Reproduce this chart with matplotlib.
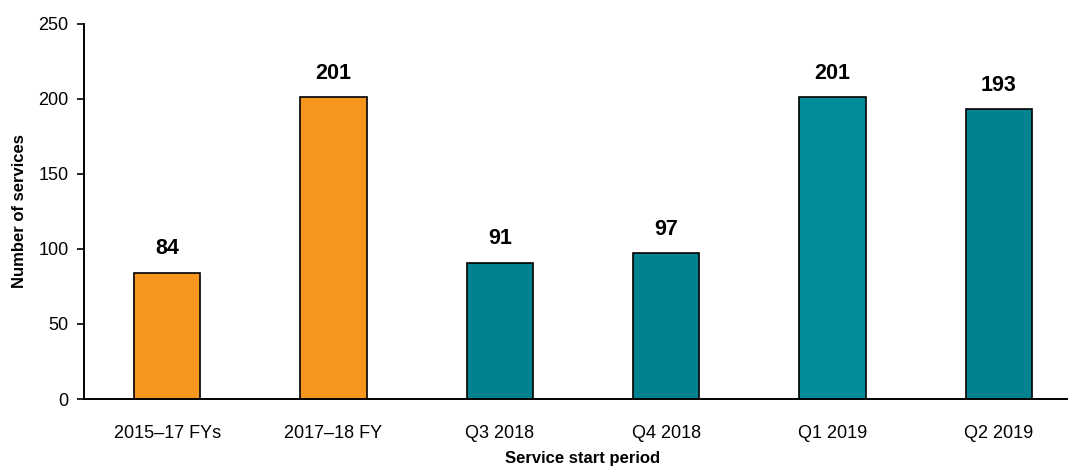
import matplotlib.pyplot as plt

plt.rcParams['font.family'] = ['Liberation Sans', 'DejaVu Sans']

periods = ["2015–17 FYs", "2017–18 FY", "Q3 2018", "Q4 2018", "Q1 2019", "Q2 2019"]
services = [84, 201, 91, 97, 201, 193]
bar_colors = ["#F7961F", "#F7961F", "#00838F", "#00838F", "#008C99", "#00838F"]

fig = plt.figure(figsize=(10.68, 4.66), dpi=100)
ax = fig.add_axes([84 / 1068, 1 - 399 / 466, 998 / 1068, 375 / 466])

x = range(len(periods))
bars = ax.bar(x, services, width=0.40, color=bar_colors,
              edgecolor="black", linewidth=1.2, zorder=2)

for b, v in zip(bars, services):
    ax.annotate(str(v), (b.get_x() + b.get_width() / 2, v),
                xytext=(0, 10), textcoords="offset points",
                ha="center", va="bottom", fontsize=15.5, fontweight="bold")

ax.set_xlim(-0.5, 5.5)
ax.set_ylim(0, 250)
ax.set_yticks(range(0, 251, 50))
ax.set_xticks(list(x))
ax.set_xticklabels(periods, fontsize=13)
ax.tick_params(axis="y", labelsize=13, length=5, width=1.2, direction="out", pad=6)
ax.tick_params(axis="x", length=0, pad=19)

for s in ["top", "right"]:
    ax.spines[s].set_visible(False)
ax.spines["left"].set_linewidth(1.4)
ax.spines["bottom"].set_linewidth(1.4)

ax.set_ylabel("Number of services", fontsize=12, fontweight="bold", labelpad=8)
ax.set_xlabel("Service start period", fontsize=12, fontweight="bold", labelpad=6)

fig.savefig("out.png", dpi=100)
